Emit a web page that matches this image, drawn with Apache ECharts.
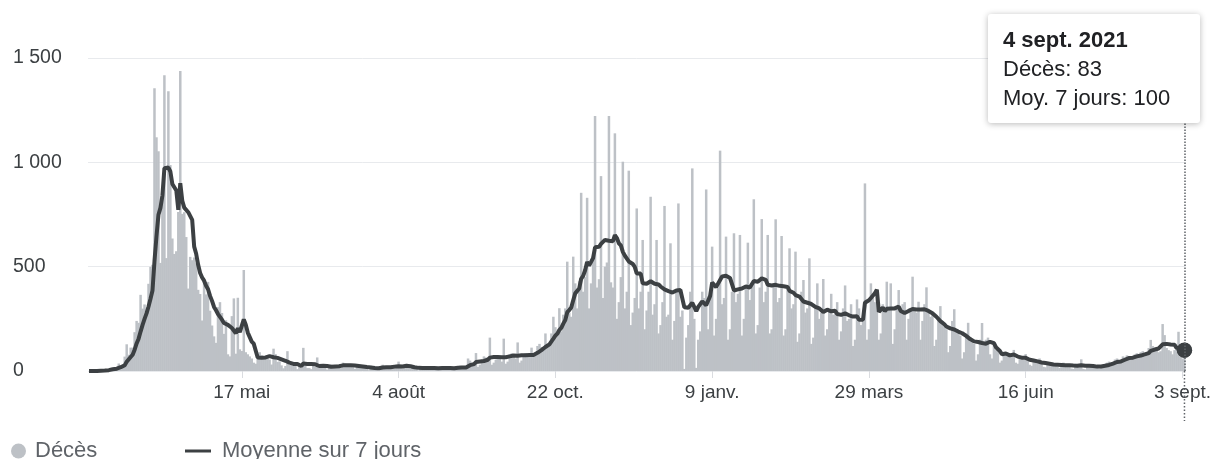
<!DOCTYPE html>
<html><head><meta charset="utf-8">
<script src="https://cdn.jsdelivr.net/npm/echarts@6/dist/echarts.min.js"></script>
<style>html,body{margin:0;padding:0;background:#fff}#c{width:1214px;height:459px}</style>
</head><body><div id="c"></div>
<script>
const seriesNames = ['Décès', 'Moyenne sur 7 jours'];
const monthAbbr = ['janv.', 'févr.', 'mars', 'avr.', 'mai', 'juin', 'juil.', 'août', 'sept.', 'oct.', 'nov.', 'déc.'];
const tickDates = ['2020-05-17', '2020-08-04', '2020-10-22', '2021-01-09', '2021-03-29', '2021-06-16', '2021-09-03'];
const tickLabels = ['17 mai', '4 août', '22 oct.', '9 janv.', '29 mars', '16 juin', '3 sept.'];
const yTicks = [0, 500, 1000, 1500];

// Daily deaths, one array per month (first day: 1 March 2020)
const deathsMar20 = [0,0,1,1,0,2,3,2,8,6,8,15,13,18,12,36,21,27,69,128,78,112,112,186,240,231,365,299,319,292,418];
const deathsApr20 = [499,509,1355,1120,1053,518,833,1417,541,1341,987,635,561,574,762,1438,753,761,642,395,547,531,544,516,389,369,242,437,367,427];
const deathsMay20 = [289,218,166,135,306,330,278,178,243,80,70,263,348,83,351,104,96,484,90,80,70,60,40,35,80,90,75,70,65,60,55];
const deathsJun20 = [31,107,81,44,46,27,13,24,95,29,28,24,27,9,24,28,111,28,14,14,9,30,20,65,18,21,14,24,7,23];
const deathsJul20 = [30,25,28,30,20,14,40,35,30,22,28,18,10,32,28,18,17,16,9,4,25,14,13,19,4,15,30,25,20,22,12];
const deathsAug20 = [20,15,30,45,18,12,25,28,20,11,17,15,12,3,22,20,16,12,14,10,8,17,19,14,18,9,7,15,20,16,13];
const deathsSep20 = [12,20,18,25,15,10,20,60,50,40,35,86,20,30,55,70,65,50,160,30,40,55,70,60,45,155,35,45,80,85];
const deathsOct20 = [70,60,137,40,50,80,85,75,70,112,70,80,120,130,115,110,180,110,130,180,260,210,180,301,190,270,300,524,280,260,548];
const deathsNov20 = [420,300,430,854,380,450,830,300,420,550,1222,400,440,934,350,500,520,1222,425,400,1139,250,330,450,1003,300,380,960,220,280];
const deathsDec20 = [350,779,300,380,628,200,290,380,835,270,320,628,180,220,330,791,260,270,612,150,240,380,803,260,290,10,160,220,380,971,250];
const deathsJan21 = [15,150,190,380,350,870,200,380,596,170,250,400,1056,320,350,644,150,200,380,660,330,370,652,170,250,400,615,340,420,823,180];
const deathsFeb21 = [220,400,728,330,380,652,180,200,420,727,330,350,647,170,200,400,588,300,320,572,140,180,380,436,280,300,540,130];
const deathsMar21 = [160,300,420,250,280,441,170,200,290,370,270,280,330,150,190,300,410,240,250,320,120,150,343,300,220,260,899,150,200,420,350];
const deathsApr21 = [330,380,150,180,320,300,428,300,420,130,200,300,388,280,320,330,150,250,300,452,300,280,332,150,240,320,401,290,260,280];
const deathsMay21 = [120,150,260,311,240,210,200,90,120,240,296,200,180,170,60,90,180,231,160,140,130,50,80,150,230,130,150,160,80,60,120];
const deathsJun21 = [100,110,40,50,90,80,85,70,75,101,40,35,70,60,55,81,50,30,25,50,45,40,60,35,20,18,40,35,40,30];
const deathsJul21 = [25,20,15,35,40,30,28,30,12,10,35,30,25,56,10,8,20,25,22,30,25,15,12,28,30,35,40,45,30,35,55];
const deathsAug21 = [60,45,50,70,65,75,70,55,60,80,85,80,90,95,70,75,110,149,120,105,110,90,95,225,172,110,100,95,80,100,120];
const deathsSep21 = [188,70,60,83];

// 7-day average, one array per month
const avgMar20 = [0,0,0,0,0,1,1,1,2,3,4,6,8,10,11,15,18,20,28,44,53,67,78,102,132,155,189,221,250,276,309];
const avgApr20 = [346,386,527,645,749,782,841,972,977,975,956,896,902,865,772,900,816,783,784,761,757,724,596,562,509,470,448,433,409,392];
const avgMay20 = [360,336,307,291,273,267,246,230,234,221,212,206,209,181,205,186,188,247,222,184,182,141,131,123,65,65,64,64,65,68,71];
const avgJun20 = [64,66,67,63,61,56,50,49,47,40,37,34,34,34,34,24,36,36,34,33,33,33,32,26,24,25,25,27,24,25];
const avgJul20 = [20,21,22,24,23,24,27,27,28,27,27,27,26,25,24,22,22,20,19,18,17,15,14,14,13,13,17,17,18,19,18];
const avgAug20 = [21,21,21,23,23,22,24,25,25,23,19,18,18,15,14,14,15,14,14,14,15,14,14,13,14,14,13,14,15,14,14];
const avgSep20 = [13,15,16,18,17,16,17,24,28,31,33,43,44,46,45,48,52,54,64,66,67,67,67,66,66,65,66,66,70,72];
const avgOct20 = [74,76,73,74,75,75,75,75,77,73,77,82,87,94,100,105,115,121,128,136,155,169,179,196,207,227,244,282,292,304,339];
const avgNov20 = [372,376,395,442,456,483,523,506,523,541,593,596,595,609,617,628,624,624,627,622,651,637,612,602,571,553,550,525,520,513];
const avgDec20 = [499,467,467,467,420,417,418,422,430,426,418,418,415,405,398,391,390,383,380,376,379,386,388,388,391,305,306,303,303,327,326];
const avgJan21 = [287,307,311,334,329,315,308,360,424,421,402,409,436,453,449,456,453,446,443,386,388,391,392,395,402,405,398,400,407,431,433];
const avgFeb21 = [428,428,444,443,437,413,413,410,413,413,413,408,408,406,406,403,384,379,375,364,360,357,354,333,330,327,322,321];
const avgMar21 = [318,307,304,300,297,283,289,294,293,286,289,289,273,270,269,270,276,271,267,266,261,256,262,246,243,245,327,332,339,350,357];
const avgApr21 = [373,390,283,287,304,287,298,294,300,297,300,297,309,288,291,278,281,288,288,297,300,295,295,295,293,296,289,288,285,277];
const avgMay21 = [273,260,252,239,232,224,213,209,204,202,199,194,189,185,181,177,168,159,153,147,142,140,139,134,134,130,131,136,140,137,133];
const avgJun21 = [114,111,96,80,81,84,79,75,70,79,77,69,68,64,62,63,56,54,53,50,48,46,43,41,39,38,37,35,35,31];
const avgJul21 = [30,30,29,29,29,28,28,28,27,26,26,25,24,28,25,25,26,25,24,24,20,21,21,22,23,25,26,29,31,35,39];
const avgAug21 = [43,44,46,49,54,60,62,61,64,68,70,72,74,78,80,82,86,96,101,103,106,108,111,128,131,130,129,127,125,126,111];
const avgSep21 = [113,108,102,100];

const deaths = [].concat(deathsMar20, deathsApr20, deathsMay20, deathsJun20, deathsJul20, deathsAug20, deathsSep20,
  deathsOct20, deathsNov20, deathsDec20, deathsJan21, deathsFeb21, deathsMar21, deathsApr21, deathsMay21,
  deathsJun21, deathsJul21, deathsAug21, deathsSep21);
const avg7 = [].concat(avgMar20, avgApr20, avgMay20, avgJun20, avgJul20, avgAug20, avgSep20,
  avgOct20, avgNov20, avgDec20, avgJan21, avgFeb21, avgMar21, avgApr21, avgMay21,
  avgJun21, avgJul21, avgAug21, avgSep21);

// Category dates (ISO), one per day from 1 March 2020
const categories = [];
for (let i = 0; i < deaths.length; i++) {
  categories.push(new Date(Date.UTC(2020, 2, 1 + i)).toISOString().slice(0, 10));
}
function shortLabel(iso) {
  const k = tickDates.indexOf(iso);
  if (k >= 0) return tickLabels[k];
  const p = iso.split('-').map(Number);
  return p[2] + ' ' + monthAbbr[p[1] - 1];
}
function longLabel(iso) {
  const p = iso.split('-').map(Number);
  return p[2] + ' ' + monthAbbr[p[1] - 1] + ' ' + p[0];
}
function frNum(v) {
  return v >= 1000 ? Math.floor(v / 1000) + ' ' + String(v % 1000).padStart(3, '0') : String(v);
}

const FONT = '"Liberation Sans", Arial, Helvetica, sans-serif';
const isTick = (idx, val) => tickDates.indexOf(val) >= 0;
const last = deaths.length - 1;

const chart = echarts.init(document.getElementById('c'), null, { renderer: 'canvas' });
chart.setOption({
  animation: false,
  textStyle: { fontFamily: FONT },
  grid: { left: 88, right: 28, top: 58, bottom: 88 },
  xAxis: {
    type: 'category', data: categories, boundaryGap: true,
    axisLine: { show: false },
    axisTick: { show: true, alignWithLabel: true, interval: isTick, length: 7, lineStyle: { color: '#dadce0' } },
    axisLabel: { interval: isTick, formatter: shortLabel, color: '#3c4043', fontSize: 19, margin: 12, fontFamily: FONT },
    splitLine: { show: false }
  },
  yAxis: {
    type: 'value', min: yTicks[0], max: yTicks[yTicks.length - 1], interval: 500,
    axisLine: { show: false }, axisTick: { show: false },
    axisLabel: { align: 'left', margin: 75, color: '#3c4043', fontSize: 19.5, fontFamily: FONT, formatter: frNum },
    splitLine: { lineStyle: { color: '#e8eaed', width: 1 } }
  },
  tooltip: {
    trigger: 'axis', triggerOn: 'none', alwaysShowContent: true,
    position: [988, 14],
    backgroundColor: '#fff', borderWidth: 0, padding: [11, 15],
    textStyle: { fontFamily: FONT, fontSize: 22, color: '#202124' },
    extraCssText: 'box-shadow:0 1px 6px rgba(0,0,0,0.28);border-radius:3px;width:182px;line-height:29px;',
    axisPointer: { type: 'line', lineStyle: { type: 'dotted', color: '#5f6368', width: 1.5 }, label: { show: false } },
    formatter: function (ps) {
      const i = ps[0].dataIndex;
      return '<div style="font-weight:bold">' + longLabel(categories[i]) + '</div>' +
        '<div>Décès: ' + deaths[i] + '</div><div>Moy. 7 jours: ' + avg7[i] + '</div>';
    }
  },
  legend: [
    { data: [{ name: seriesNames[0], icon: 'circle' }], left: 11, top: 440, padding: 0, itemWidth: 15, itemHeight: 15,
      selectedMode: false, textStyle: { fontFamily: FONT, fontSize: 22, color: '#5f6368', padding: [0, 0, 0, 4] } },
    { data: [{ name: seriesNames[1], icon: 'rect' }], left: 185, top: 440, padding: 0, itemWidth: 26, itemHeight: 3,
      selectedMode: false, textStyle: { fontFamily: FONT, fontSize: 22, color: '#5f6368', padding: [0, 0, 0, 6] } }
  ],
  series: [
    { type: 'bar', name: seriesNames[0], data: deaths, barWidth: 2.5,
      itemStyle: { color: '#bdc1c6' }, emphasis: { disabled: true }, silent: true, large: false },
    { type: 'line', name: seriesNames[1], data: avg7, showSymbol: false, symbol: 'circle', symbolSize: 14,
      lineStyle: { color: '#3c4043', width: 4 }, itemStyle: { color: '#3c4043' },
      emphasis: { disabled: true },
      markPoint: { symbol: 'circle', symbolSize: 15, silent: true, label: { show: false },
        itemStyle: { color: '#3c4043' },
        data: [{ coord: [categories[last], avg7[last]] }] } }
  ]
});

const px = chart.convertToPixel({ xAxisIndex: 0 }, categories[last]);
const y0 = chart.convertToPixel({ yAxisIndex: 0 }, 0);
chart.setOption({
  graphic: [{ type: 'line', shape: { x1: px, y1: y0, x2: px, y2: y0 + 50 },
    style: { stroke: '#5f6368', lineWidth: 1.5, lineDash: [1.5, 2] }, silent: true, z: 10 }]
});
chart.dispatchAction({ type: 'showTip', seriesIndex: 1, dataIndex: last });
</script>
</body></html>
